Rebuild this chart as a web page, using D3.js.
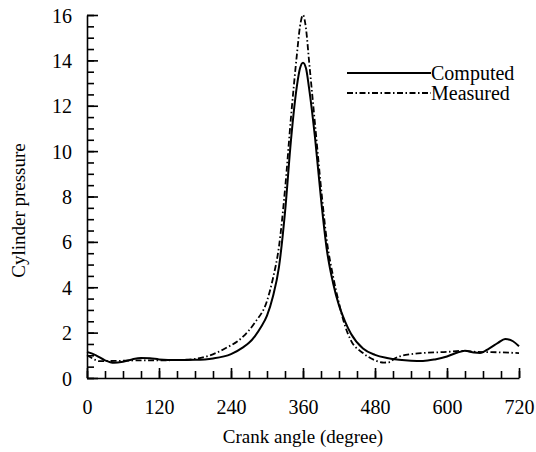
<html>
<head>
  <meta charset="utf-8">
  <title>Cylinder pressure</title>
  <script src="https://d3js.org/d3.v7.min.js"></script>
</head>

<style>
  body { margin: 0; background: #fff; }
  svg text { font-family: "Times New Roman", Times, "Liberation Serif", serif !important; fill: #000; }
  .axis path, .axis line { fill: none; stroke: #000; stroke-width: 1.6px; }
</style>

<body>
  <div class="chart"></div>

  <script>
    // computed curve
    var compAngle = [0, 15, 30, 45, 60, 75, 90, 105, 120, 150, 180, 210, 240, 260, 270, 280, 290, 300, 310, 320, 330, 340, 350, 355, 360, 365, 370, 380, 390, 400, 410, 420, 430, 440, 460, 480, 500, 520, 540, 560, 580, 600, 615, 630, 645, 655, 670, 685, 697, 710, 720];
    var compP = [1.15, 1.0, 0.78, 0.67, 0.72, 0.82, 0.88, 0.87, 0.82, 0.79, 0.8, 0.86, 1.05, 1.35, 1.55, 1.85, 2.25, 2.75, 3.6, 4.9, 7.3, 10.5, 12.9, 13.65, 13.9, 13.65, 12.8, 10.6, 7.9, 5.6, 4.2, 3.2, 2.5, 1.95, 1.3, 1.02, 0.88, 0.8, 0.76, 0.75, 0.82, 0.95, 1.1, 1.2, 1.12, 1.1, 1.3, 1.55, 1.72, 1.62, 1.4];

    // measured curve
    var measAngle = [0, 10, 20, 40, 60, 90, 120, 150, 180, 205, 230, 260, 280, 300, 310, 320, 330, 340, 350, 355, 360, 365, 370, 380, 390, 400, 410, 420, 430, 440, 460, 480, 495, 505, 512, 525, 540, 560, 600, 627, 650, 690, 720];
    var measP = [1.0, 0.85, 0.74, 0.75, 0.76, 0.78, 0.78, 0.79, 0.84, 1.0, 1.3, 1.82, 2.45, 3.4, 4.4, 5.8, 8.3, 11.5, 14.3, 15.5, 16.0, 15.4, 14.0, 11.2, 8.4, 6.0, 4.5, 3.3, 2.3, 1.65, 1.1, 0.78, 0.68, 0.7, 0.85, 0.98, 1.05, 1.1, 1.15, 1.2, 1.15, 1.13, 1.1];

    var xTicks = [0, 120, 240, 360, 480, 600, 720];
    var yTicks = [0, 2, 4, 6, 8, 10, 12, 14, 16];

    var series = [
      { name: "Computed", angle: compAngle, p: compP, dash: null },
      { name: "Measured", angle: measAngle, p: measP, dash: "6,2.5,1.5,2.5" }
    ];

    var margin = {top: 15, right: 17, bottom: 74, left: 87};
    var width = 536 - margin.left - margin.right;
    var height = 452 - margin.top - margin.bottom;

    var svg = d3.select('.chart')
      .append('svg')
        .attr('width', 536)
        .attr('height', 452);

    var g = svg.append("g")
      .attr("transform", "translate(" + margin.left + "," + margin.top + ")");

    var x = d3.scaleLinear().domain([0, 720]).range([0, width]);
    var y = d3.scaleLinear().domain([0, 16]).range([height, 0]);

    var line = d3.line()
      .x(function(d) { return x(d[0]); })
      .y(function(d) { return y(d[1]); })
      .curve(d3.curveMonotoneX);

    series.forEach(function(s) {
      var pts = s.angle.map(function(a, i) { return [a, s.p[i]]; });
      g.append("path")
        .datum(pts)
        .attr("fill", "none")
        .attr("stroke", "#000")
        .attr("stroke-width", s.dash ? 1.8 : 2)
        .attr("stroke-dasharray", s.dash)
        .attr("d", line);
    });

    // minor ticks (inward)
    var xAxisMinor = g.append("g")
      .attr("class", "axis")
      .attr("transform", "translate(0," + height + ")")
      .call(d3.axisTop(x).tickValues(d3.range(0, 721, 30)).tickSize(7).tickFormat(""));
    xAxisMinor.select(".domain").remove();

    var xAxis = g.append("g")
      .attr("class", "axis")
      .attr("transform", "translate(0," + height + ")")
      .call(d3.axisTop(x).tickValues(xTicks).tickSize(10).tickSizeOuter(0).tickFormat(d3.format("d")))
      .attr("font-family", null)
      .attr("font-size", 20);
    xAxis.selectAll("text")
      .attr("y", 22)
      .attr("dy", "0.71em");

    var yAxisMinor = g.append("g")
      .attr("class", "axis")
      .call(d3.axisRight(y).tickValues(d3.range(0, 16.01, 0.5)).tickSize(7).tickFormat(""));
    yAxisMinor.select(".domain").remove();

    var yAxis = g.append("g")
      .attr("class", "axis")
      .call(d3.axisRight(y).tickValues(yTicks).tickSize(11).tickSizeOuter(0))
      .attr("font-family", null)
      .attr("font-size", 20);
    yAxis.selectAll("text")
      .attr("x", -15)
      .attr("dy", "0.35em")
      .style("text-anchor", "end");

    // axis titles
    svg.append("text")
      .attr("x", margin.left + width / 2)
      .attr("y", 443)
      .attr("font-size", 19)
      .style("text-anchor", "middle")
      .text("Crank angle (degree)");

    svg.append("text")
      .attr("transform", "translate(25," + (margin.top + height / 2 + 14) + ") rotate(-90)")
      .attr("font-size", 19)
      .style("text-anchor", "middle")
      .text("Cylinder pressure");

    // legend
    var legend = g.append("g")
      .attr("transform", "translate(" + (347 - margin.left) + "," + (73 - margin.top) + ")");

    series.forEach(function(s, i) {
      legend.append("line")
        .attr("x1", 0).attr("x2", 84)
        .attr("y1", i * 20).attr("y2", i * 20)
        .attr("stroke", "#000")
        .attr("stroke-width", s.dash ? 1.8 : 2)
        .attr("stroke-dasharray", s.dash);
      legend.append("text")
        .attr("x", 84)
        .attr("y", i * 20)
        .attr("dy", "0.33em")
        .attr("font-size", 20)
        .text(s.name);
    });
  </script>
</body>
</html>
